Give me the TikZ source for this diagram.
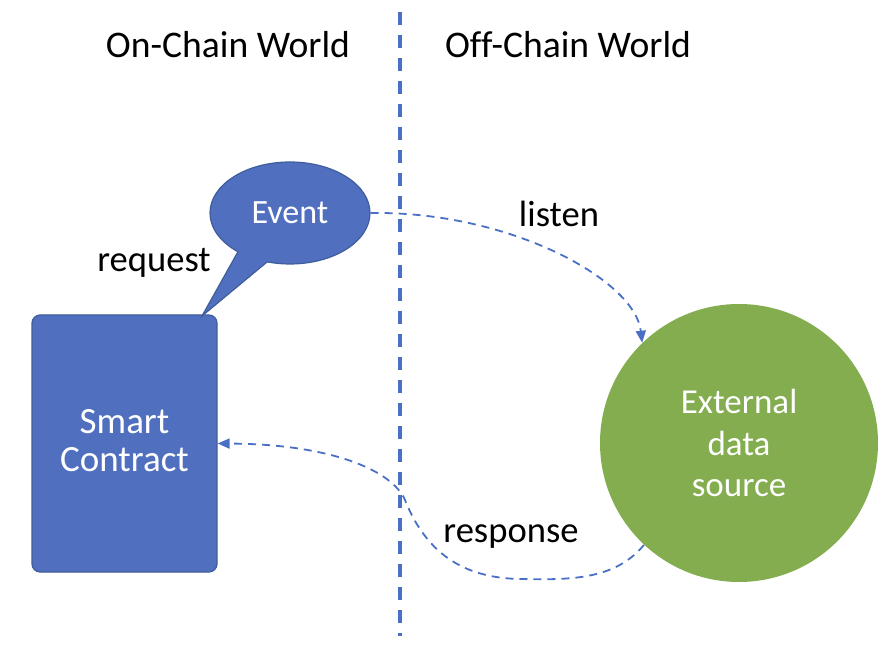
\documentclass[tikz,border=0pt]{standalone}
\usepackage{fontspec}
\setmainfont{Carlito}[Ligatures=NoCommon]
\usetikzlibrary{arrows.meta,shapes.geometric,shapes.callouts}
\definecolor{contractblue}{HTML}{5070BF}
\definecolor{edgeblue}{HTML}{3F5D9C}
\definecolor{dashblue}{HTML}{4A70C6}
\definecolor{sourcegreen}{HTML}{83AD4F}

\begin{document}
\begin{tikzpicture}[x=0.5pt, y=-0.5pt, every node/.style={font=\fontsize{18.3}{22}\selectfont},
  link/.style={dashblue, line width=0.9pt, dash pattern=on 4pt off 3pt, -{Triangle[length=6pt,width=5pt]}}]
  \useasboundingbox (0,0) rectangle (896,647);
  % divider between the two worlds
  \draw[dashblue, line width=1.8pt, dash pattern=on 6.5pt off 5pt] (400,12) -- (400,636);
  \node[anchor=base] (onchain) at (228,58) {\fontsize{18.8}{23}\selectfont On-Chain World};
  \node[anchor=base] (offchain) at (568,58) {\fontsize{18.8}{23}\selectfont Off-Chain World};
  \node[draw=edgeblue, fill=contractblue, line width=0.6pt, rounded corners=4pt, text=white, align=center,
        minimum width=92.5pt, minimum height=128.5pt, inner sep=0pt] (sc) at (124.5,443.5) {};
  \node[text=white, align=center, font=\fontsize{18.5}{19}\selectfont] (sctext) at (124.5,441) {Smart\\Contract};
  \coordinate (tip) at (202,316);
  \node[ellipse callout, callout absolute pointer={(tip)}, callout pointer arc=24, draw=edgeblue, fill=contractblue,
        line width=0.6pt, text=white, minimum width=80pt, minimum height=51pt, inner sep=0pt,
        font=\fontsize{17}{20}\selectfont] (ev) at (290,213) {Event};
  \node[circle, fill=sourcegreen, text=white, align=center, minimum size=139pt, inner sep=0pt,
        font=\fontsize{17.5}{20.75}\selectfont] (ext) at (739,443) {External\\data\\source};
  \node[anchor=base] (request) at (154,272) {request};
  \node[anchor=base] (listen) at (559,227) {listen};
  \node[anchor=base] (response) at (511,542) {response};
  \draw[link] (ev.east) .. controls (510,211) and (635,280) .. (ext.134);
  \coordinate (low) at (520,579);
  \coordinate (bend) at (405,500);
  \draw[link] (ext.227) .. controls (615,580) and (570,580) .. (low)
    .. controls (460,578) and (425,550) .. (bend)
    .. controls (392,470) and (330,444) .. (sc.east);
\end{tikzpicture}
\end{document}
